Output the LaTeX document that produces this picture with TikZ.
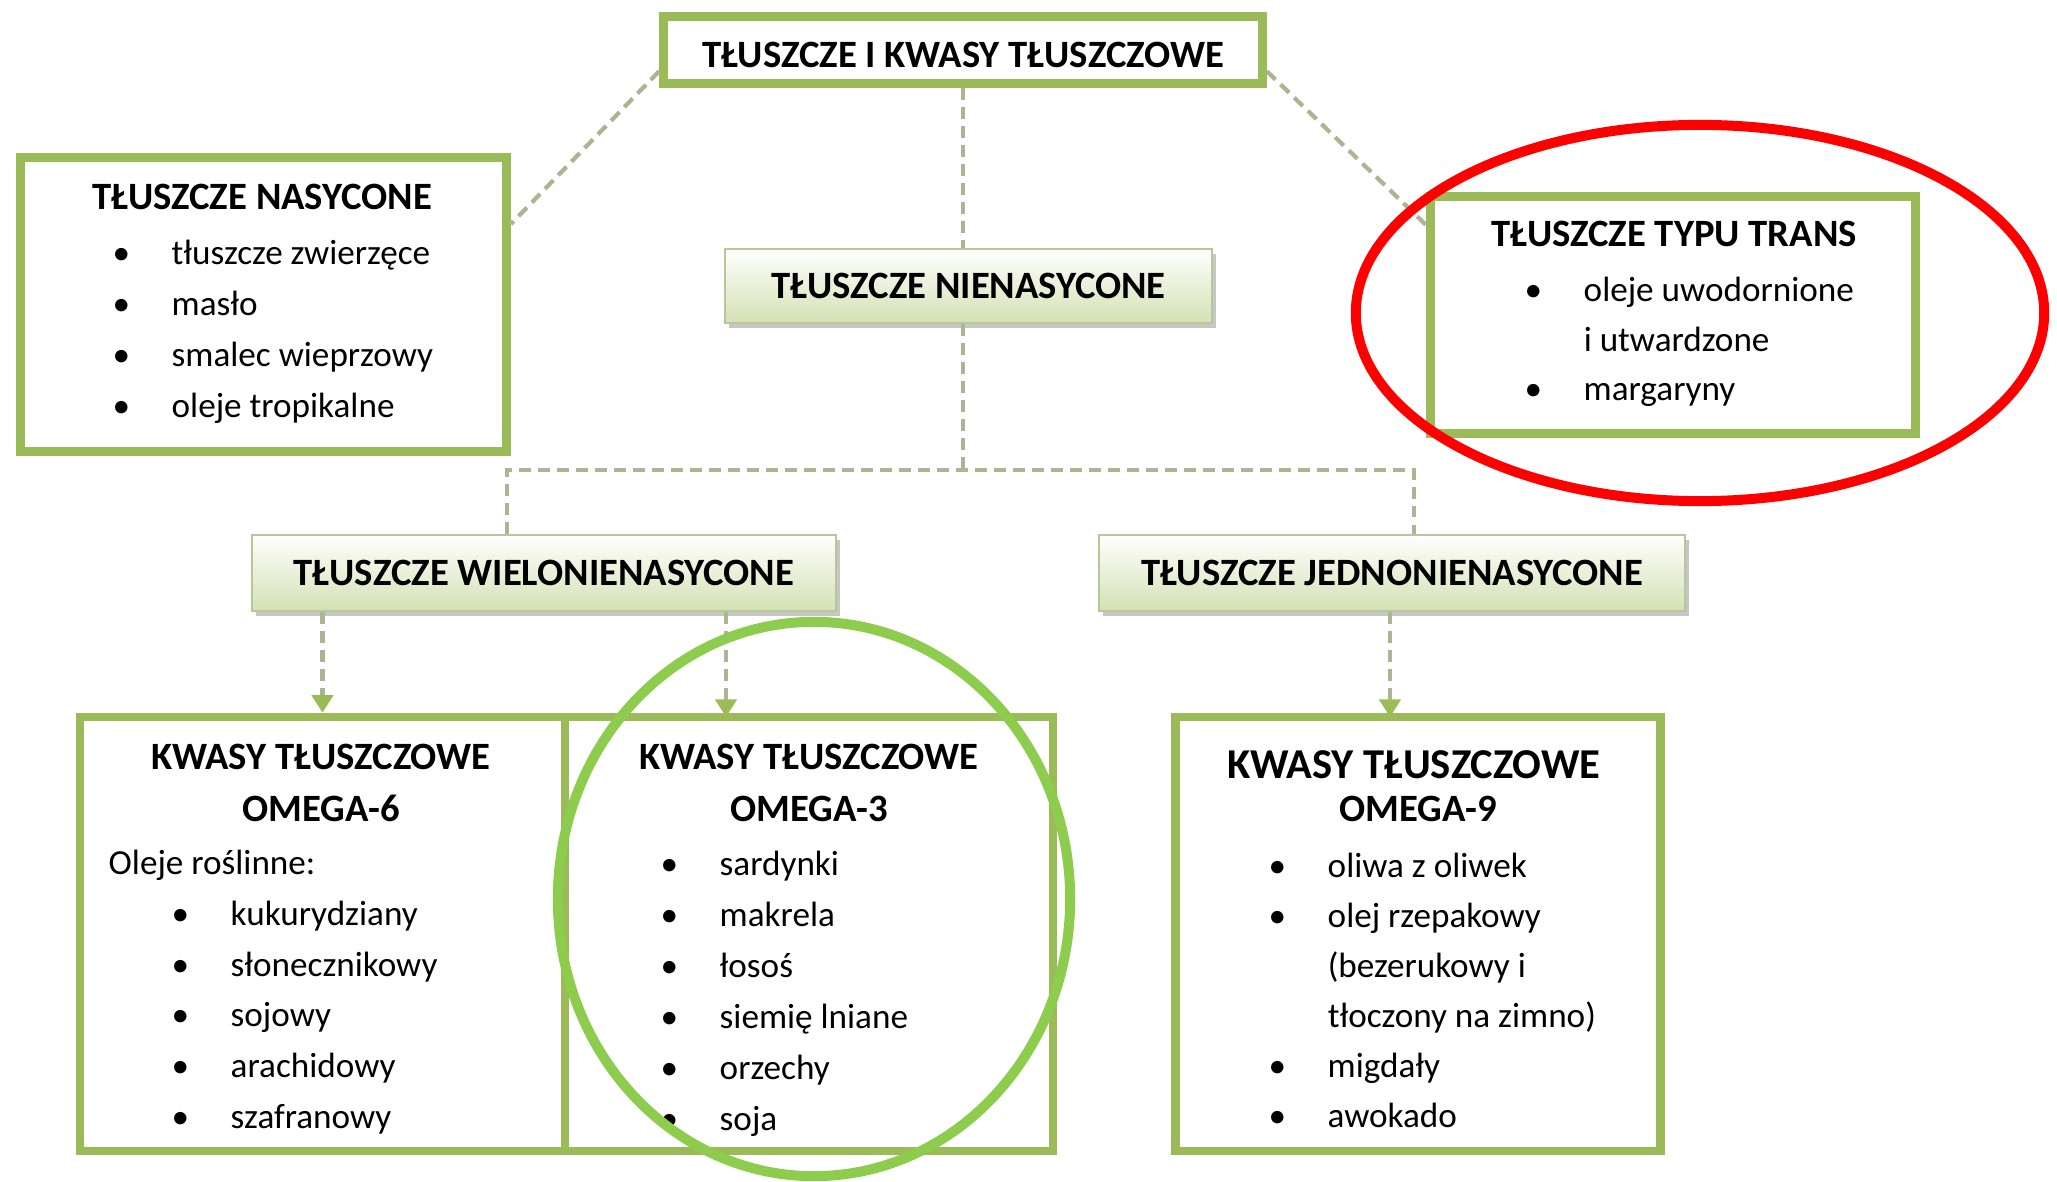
\documentclass[tikz,border=0pt]{standalone}
\usepackage{fontspec}
\setmainfont{Carlito}
\usetikzlibrary{arrows.meta,shadows}

\definecolor{zielony}{HTML}{9BBB59}
\definecolor{kreska}{HTML}{ABB594}
\definecolor{jasny}{HTML}{D3E1B4}
\definecolor{obwod}{HTML}{B7C79A}
\definecolor{trawa}{HTML}{8ECC4E}

\newcommand{\tytul}{\fontsize{11}{13}\selectfont\bfseries}
\newcommand{\wiersz}[2]{\makebox[0.59cm][l]{#1}#2}

\begin{document}
\begin{tikzpicture}[x=0.01cm,y=-0.01cm,
    ramka/.style={draw=zielony,line width=2.4pt,fill=white,inner sep=0pt},
    belka/.style={draw=obwod,line width=0.6pt,top color=white,bottom color=jasny,
        drop shadow={shadow xshift=1.2pt,shadow yshift=-1.5pt,fill=black!50,opacity=0.45},
        font=\tytul,inner sep=0pt},
    tytul/.style={font=\tytul,anchor=mid},
    pkt/.style={font=\fontsize{10}{12}\selectfont,anchor=mid west,inner sep=0pt},
    linia/.style={draw=kreska,line width=1.2pt,dash pattern=on 3.4pt off 2pt},
    strzalka/.style={linia,-{Triangle[length=5pt,width=6pt,color=zielony]}}]
    \useasboundingbox (0,0) rectangle (2057,1182);

    % gora
    \node[ramka,minimum width=5.99cm,minimum height=0.67cm] (glowny) at (963,50) {};
    \node[tytul] (glownyT) at (963,59) {TŁUSZCZE I KWASY TŁUSZCZOWE};

    \node[ramka,minimum width=4.86cm,minimum height=2.94cm] (nasycone) at (263.5,304.5) {};
    \node[tytul] (nasT) at (262,201) {TŁUSZCZE NASYCONE};
    \foreach \t [count=\i] in {tłuszcze zwierzęce,masło,smalec wieprzowy,oleje tropikalne}
        \node[pkt] (nas\i) at (112,{205+51*\i}) {\wiersz{\textbullet}{\t}};

    \node[ramka,minimum width=4.85cm,minimum height=2.37cm] (trans) at (1673,315) {};
    \node[tytul] (transT) at (1674,238) {TŁUSZCZE TYPU TRANS};
    \foreach \k/\t [count=\i] in {\textbullet/oleje uwodornione,/i utwardzone,\textbullet/margaryny}
        \node[pkt] (trans\i) at (1524,{244+49.5*\i}) {\wiersz{\k}{\t}};

    % srodek
    \node[belka,minimum width=4.87cm,minimum height=0.74cm] (nienasycone) at (968.5,286) {TŁUSZCZE NIENASYCONE};
    \node[belka,minimum width=5.84cm,minimum height=0.76cm] (wielo) at (544,573) {TŁUSZCZE WIELONIENASYCONE};
    \node[belka,minimum width=5.86cm,minimum height=0.76cm] (jedno) at (1392,573) {TŁUSZCZE JEDNONIENASYCONE};

    % dol
    \node[ramka,minimum width=4.85cm,minimum height=4.34cm] (omega6) at (322.5,934) {};
    \node[ramka,minimum width=4.88cm,minimum height=4.34cm] (omega3) at (809,934) {};
    \node[ramka,minimum width=4.85cm,minimum height=4.34cm] (omega9) at (1418,934) {};

    \node[tytul] (o6a) at (321,761) {KWASY TŁUSZCZOWE};
    \node[tytul] (o6b) at (321,813) {OMEGA-6};
    \node[pkt] (o6c) at (108,866) {Oleje roślinne:};
    \foreach \t [count=\i] in {kukurydziany,słonecznikowy,sojowy,arachidowy,szafranowy}
        \node[pkt] (o6\i) at (171,{866+50.8*\i}) {\wiersz{\textbullet}{\t}};

    \node[tytul] (o3a) at (809,761) {KWASY TŁUSZCZOWE};
    \node[tytul] (o3b) at (809,813) {OMEGA-3};
    \foreach \t [count=\i] in {sardynki,makrela,łosoś,siemię lniane,orzechy,soja}
        \node[pkt] (o3\i) at (660,{816+51*\i}) {\wiersz{\textbullet}{\t}};

    \node[tytul,font=\fontsize{12.1}{14}\selectfont\bfseries] (o9a) at (1414,770) {KWASY TŁUSZCZOWE};
    \node[tytul] (o9b) at (1418,813) {OMEGA-9};
    \foreach \k/\t [count=\i] in {\textbullet/oliwa z oliwek,\textbullet/olej rzepakowy,/(bezerukowy i,/tłoczony na zimno),\textbullet/migdały,\textbullet/awokado}
        \node[pkt] (o9\i) at (1268,{819+50*\i}) {\wiersz{\k}{\t}};

    % polaczenia
    \coordinate (rozg) at (963,470);
    \coordinate (lewy) at (507,470);
    \coordinate (prawy) at (1414,470);
    \coordinate (s3) at (726,717);
    \coordinate (s9) at (1390,717);

    \draw[linia] (glowny.184) -- (nasycone.18);
    \draw[linia] (glowny.-4) -- (trans.160);
    \draw[linia] (glowny.south) -- (glowny.south |- nienasycone.north);
    \draw[linia] (nienasycone.south -| rozg) -- (rozg);
    \draw[linia] (wielo.north -| lewy) -- (lewy) -- (prawy) -- (jedno.north -| prawy);
    \draw[strzalka] (wielo.south -| omega6.north) -- (omega6.north);
    \draw[strzalka] (wielo.south -| s3) -- (s3);
    \draw[strzalka] (jedno.south -| s9) -- (s9);

    % obrysy
    \draw[red,line width=0.1cm] (1700,313) ellipse [x radius=3.44cm,y radius=1.88cm];
    \draw[trawa,line width=0.1cm] (814,899) ellipse [x radius=2.56cm,y radius=2.77cm];
\end{tikzpicture}
\end{document}
